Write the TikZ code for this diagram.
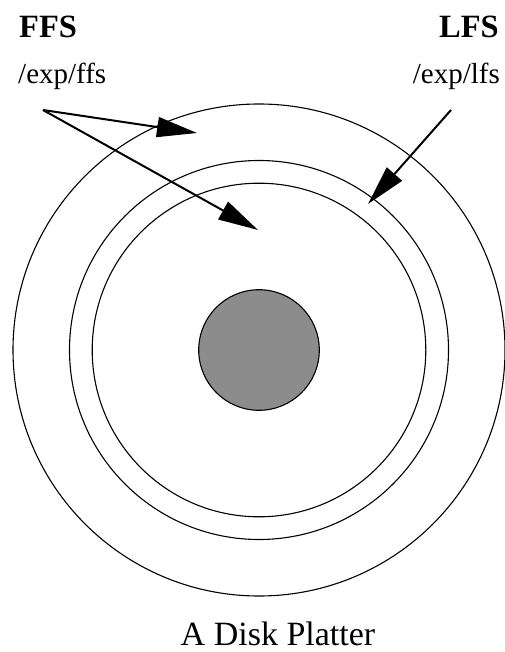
\documentclass[tikz,border=0pt]{standalone}
\usepackage{fontspec}
\setmainfont{Liberation Serif}
\usepackage{tikz}
\usetikzlibrary{arrows.meta}
\definecolor{hubgray}{HTML}{8C8C8C}
\tikzset{
  fs/.style={font=\fontsize{32.5}{36}\selectfont\bfseries,inner sep=0pt},
  mnt/.style={font=\fontsize{29}{33}\selectfont,inner sep=0pt},
  trk/.style={line width=1.1pt},
  ptr/.style={line width=2pt,-{Triangle[length=40pt,width=20pt]}}
}
\begin{document}
\begin{tikzpicture}[x=1pt,y=-1pt]
\useasboundingbox (0,0) rectangle (505,652);
\coordinate (ctr) at (259,350);
\draw[trk] (ctr) circle[radius=246];
\draw[trk] (ctr) circle[radius=189.5];
\draw[trk] (ctr) circle[radius=166.8];
\draw[trk,fill=hubgray] (ctr) circle[radius=60.3];
\node[fs,anchor=base west] (ffs) at (19,38) {FFS};
\node[mnt,anchor=base west] (ffsdir) at (18,84) {/exp/ffs};
\node[fs,anchor=base east] (lfs) at (499,38) {LFS};
\node[mnt,anchor=base east] (lfsdir) at (500,84) {/exp/lfs};
\node[font=\fontsize{34}{38}\selectfont,inner sep=0pt,anchor=base] (title) at (278,645) {A Disk Platter};
\coordinate (ffsfrom) at (43,110);
\coordinate (ffsouter) at (197,133);
\coordinate (ffsinner) at (258,230);
\coordinate (lfsfrom) at (451,110);
\coordinate (lfsgap) at (368,204);
\draw[ptr] (ffsfrom) -- (ffsouter);
\draw[ptr] (ffsfrom) -- (ffsinner);
\draw[ptr] (lfsfrom) -- (lfsgap);
\end{tikzpicture}
\end{document}
